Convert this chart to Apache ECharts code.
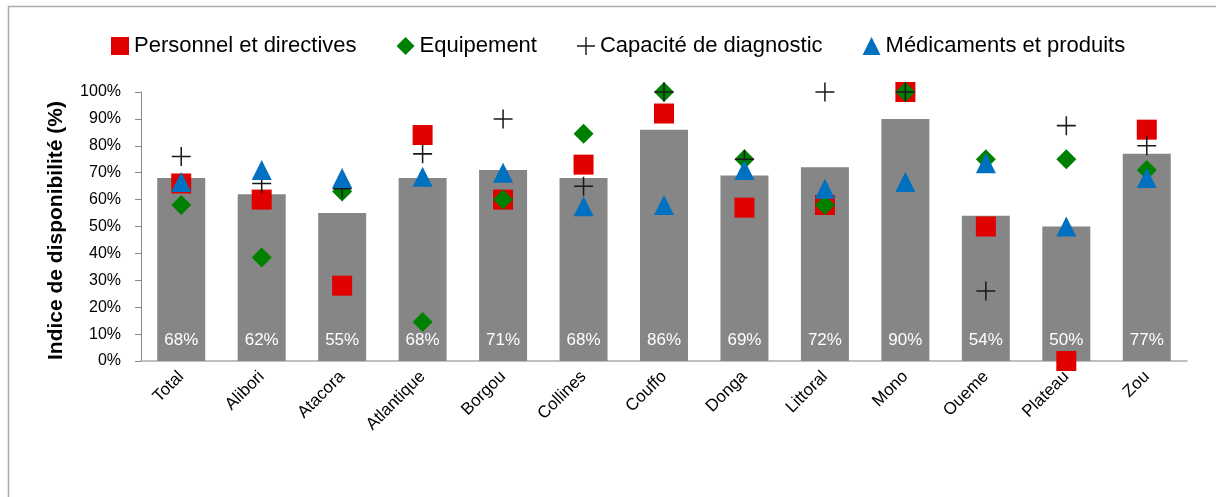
<!DOCTYPE html>
<html>
<head>
<meta charset="utf-8">
<script src="https://cdn.jsdelivr.net/npm/echarts@6/dist/echarts.min.js"></script>
<style>
html,body{margin:0;padding:0;background:#fff;}
#chart{width:1216px;height:497px;}
</style>
</head>
<body>
<div id="chart"></div>
<script>
const categories = ['Total','Alibori','Atacora','Atlantique','Borgou','Collines','Couffo','Donga','Littoral','Mono','Oueme','Plateau','Zou'];
const indice = [68,62,55,68,71,68,86,69,72,90,54,50,77];
const personnel = [66,60,28,84,60,73,92,57,58,100,50,0,86];
const equipement = [58,38.5,63,14.5,60,84.5,100,75,58,100,75,75,71];
const diagnostic = [76,66,64,77,90,65,100,75,100,100,26,87.5,80];
const medicaments = [66.5,71,68,68.5,70,57.5,58,71,64,66.5,73.5,50,68];
const yTicks = [0,10,20,30,40,50,60,70,80,90,100];

const FONT = '"Liberation Sans", Arial, sans-serif';
const crossPath = 'path://M0,9.2H20V10.8H0Z M9.2,0H10.8V20H9.2Z';

const chart = echarts.init(document.getElementById('chart'), null, {renderer:'canvas'});
const scatterBase = {type:'scatter', animation:false, emphasis:{disabled:true}};
chart.setOption({
  animation:false,
  backgroundColor:'#fff',
  graphic:[{type:'rect', left:6, top:4, shape:{width:1230, height:510}, style:{fill:'none', stroke:'#aaaaaa', lineWidth:1.5}, silent:true, z:-1}],
  legend:{
    left:106, top:30,
    itemWidth:18, itemHeight:18, itemGap:40,
    textStyle:{fontFamily:FONT, fontSize:22, color:'#000'},
    data:['Personnel et directives','Equipement','Capacité de diagnostic','Médicaments et produits']
  },
  grid:{left:141, right:29, top:92, bottom:136, containLabel:false},
  xAxis:{
    type:'category', data:categories,
    axisLine:{lineStyle:{color:'#aaaaaa', width:1.5}},
    axisTick:{show:false},
    axisLabel:{rotate:45, fontFamily:FONT, fontSize:17, color:'#000', margin:13, interval:0}
  },
  yAxis:{
    type:'value', min:0, max:100, interval:10,
    name:'Indice de disponibilité (%)', nameLocation:'middle', nameRotate:90, nameGap:74,
    nameTextStyle:{fontFamily:FONT, fontSize:21, fontWeight:'bold', color:'#000', padding:[0,8,0,0]},
    axisLine:{show:true, lineStyle:{color:'#888', width:1}},
    axisTick:{show:true, length:6, lineStyle:{color:'#888'}},
    splitLine:{show:false},
    axisLabel:{formatter: v => yTicks.includes(v) ? v + '%' : '', fontFamily:FONT, fontSize:16, color:'#000', margin:20}
  },
  series:[
    {type:'bar', name:'Indice', data:indice, barWidth:48, itemStyle:{color:'#868686'},
     emphasis:{disabled:true},
     label:{show:true, position:'insideBottom', distance:12, formatter:'{c}%', color:'#fff', fontFamily:FONT, fontSize:17}},
    Object.assign({}, scatterBase, {name:'Personnel et directives', data:personnel, symbol:'rect', symbolSize:20, itemStyle:{color:'#e00000', opacity:1}, z:3}),
    Object.assign({}, scatterBase, {name:'Equipement', data:equipement, symbol:'diamond', symbolSize:20, itemStyle:{color:'#008000', opacity:1}, z:4}),
    Object.assign({}, scatterBase, {name:'Capacité de diagnostic', data:diagnostic, symbol:crossPath, symbolSize:19, itemStyle:{color:'#1a1a1a', opacity:1}, z:5}),
    Object.assign({}, scatterBase, {name:'Médicaments et produits', data:medicaments, symbol:'triangle', symbolSize:20, itemStyle:{color:'#0070c0', opacity:1}, z:6})
  ]
});
</script>
</body>
</html>
